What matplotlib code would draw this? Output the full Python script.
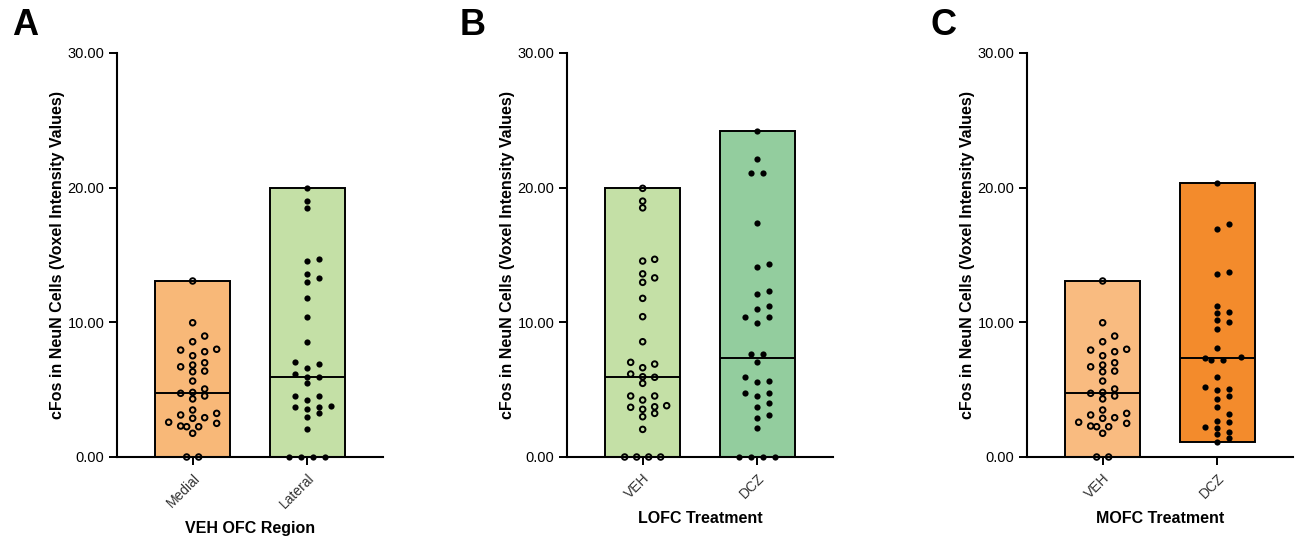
import numpy as np
import matplotlib
matplotlib.use('Agg')
import matplotlib.pyplot as plt
from matplotlib.ticker import FormatStrFormatter

plt.rcParams['font.family'] = ['Liberation Sans', 'DejaVu Sans']

# cFos in NeuN cells, one value per animal
medial = [13.07, 9.97, 8.98, 8.56, 8.0, 7.94, 7.82, 7.52, 7.0, 6.83, 6.7, 6.38, 6.33,
          5.64, 5.05, 4.8, 4.73, 4.53, 4.31, 3.49, 3.24, 3.12, 2.92, 2.87, 2.58, 2.5,
          2.3, 2.25, 2.25, 1.76, 0.0, 0.0]
lateral = [19.95, 19.0, 18.5, 14.68, 14.55, 13.6, 13.3, 12.97, 11.78, 10.42, 8.56, 7.03,
           6.9, 6.63, 6.16, 5.96, 5.92, 5.47, 4.53, 4.53, 4.23, 3.81, 3.73, 3.69, 3.54,
           3.24, 2.99, 2.05, 0.0, 0.0, 0.0, 0.0]
dcz_lofc = [24.2, 22.1, 21.06, 21.06, 17.4, 14.3, 14.13, 12.3, 12.1, 11.23, 10.96, 10.37,
            10.37, 9.97, 7.65, 7.65, 7.08, 5.92, 5.66, 5.59, 4.77, 4.73, 4.53, 4.03, 3.69,
            3.12, 2.87, 2.12, 0.0, 0.0, 0.0, 0.0]
dcz_mofc = [20.32, 17.27, 16.93, 13.71, 13.59, 11.21, 10.74, 10.67, 10.17, 10.0, 9.53,
            8.12, 7.42, 7.37, 7.2, 7.2, 5.96, 5.22, 5.05, 4.97, 4.55, 4.31, 3.69, 3.17,
            2.7, 2.58, 2.2, 2.18, 1.88, 1.68, 1.39, 1.14]

panel_letters = ['A', 'B', 'C']
group_labels = [['Medial', 'Lateral'], ['VEH', 'DCZ'], ['VEH', 'DCZ']]
x_titles = ['VEH OFC Region', 'LOFC Treatment', 'MOFC Treatment']
panel_data = [[medial, lateral], [lateral, dcz_lofc], [medial, dcz_mofc]]
medians = [[4.78, 5.92], [5.92, 7.37], [4.78, 7.33]]
filled = [[False, True], [False, True], [False, True]]
bar_colors = [['#F8B878', '#C4E0A6'], ['#C4E0A6', '#93CD9E'], ['#F9BB80', '#F38B2C']]
y_ticks = [0, 10, 20, 30]
ylab = 'cFos in NeuN Cells (Voxel Intensity Values)'

W, H = 1297, 538
fig = plt.figure(figsize=(W / 100, H / 100), dpi=100)

lefts = [117, 567, 1027]
ax_w, ax_bottom, ax_h = 266, 81, 404
xlim = (-0.66, 1.66)
bar_w = 0.652


# simple beeswarm, offsets on a 6 px grid like the Prism layout
def swarm(vals, xpx, ypx, step=6, dx_min=11.5, dy_min=6.5):
    vals = np.asarray(vals, float)
    offs = np.zeros(len(vals))
    placed = []
    cands = [0]
    for k in range(1, 20):
        cands += [k * step, -k * step]
    for i in np.argsort(vals):
        y = vals[i] * ypx
        for c in cands:
            if all(abs(c - o) >= dx_min or abs(y - yy) >= dy_min for o, yy in placed):
                break
        offs[i] = c
        placed.append((c, y))
    for v in np.unique(vals):
        m = vals == v
        if m.sum() > 1:
            offs[m] -= offs[m].mean()
    return offs / xpx


xpx = ax_w / (xlim[1] - xlim[0])
ypx = ax_h / 30

for p in range(3):
    ax = fig.add_axes([lefts[p] / W, ax_bottom / H, ax_w / W, ax_h / H])
    for g in range(2):
        vals = np.array(panel_data[p][g])
        lo, hi = vals.min(), vals.max()
        ax.bar(g, hi - lo, bottom=lo, width=bar_w, color=bar_colors[p][g],
               edgecolor='black', linewidth=1.4, zorder=1)
        ax.hlines(medians[p][g], g - bar_w / 2, g + bar_w / 2, color='black',
                  linewidth=1.4, zorder=2)
        xs = g + swarm(vals, xpx, ypx)
        if filled[p][g]:
            ax.scatter(xs, vals, s=20, color='black', linewidths=0, zorder=3, clip_on=False)
        else:
            ax.scatter(xs, vals, s=16, facecolors='none', edgecolors='black',
                       linewidths=1.4, zorder=3, clip_on=False)

    ax.set_xlim(*xlim)
    ax.set_ylim(0, 30)
    ax.set_yticks(y_ticks)
    ax.yaxis.set_major_formatter(FormatStrFormatter('%.2f'))
    ax.set_xticks([0, 1])
    ax.set_xticklabels(group_labels[p], rotation=45, ha='right',
                       rotation_mode='anchor', fontsize=10, color='#333333')
    ax.tick_params(axis='y', labelsize=10.5, length=6, width=1.4, pad=3)
    ax.tick_params(axis='x', length=6, width=1.4, pad=4)
    for s in ['top', 'right']:
        ax.spines[s].set_visible(False)
    for s in ['left', 'bottom']:
        ax.spines[s].set_linewidth(1.5)
    ax.set_ylabel(ylab, fontsize=11.5, fontweight='bold', labelpad=2)
    ax.set_xlabel(x_titles[p], fontsize=11.5, fontweight='bold', labelpad=7)
    ax.patch.set_alpha(0)

letter_x = [12, 460, 930]
for p in range(3):
    fig.text(letter_x[p] / W, 1 - 8 / H, panel_letters[p], fontsize=26,
             fontweight='bold', va='top', ha='left')

fig.savefig('out.png', dpi=100)
